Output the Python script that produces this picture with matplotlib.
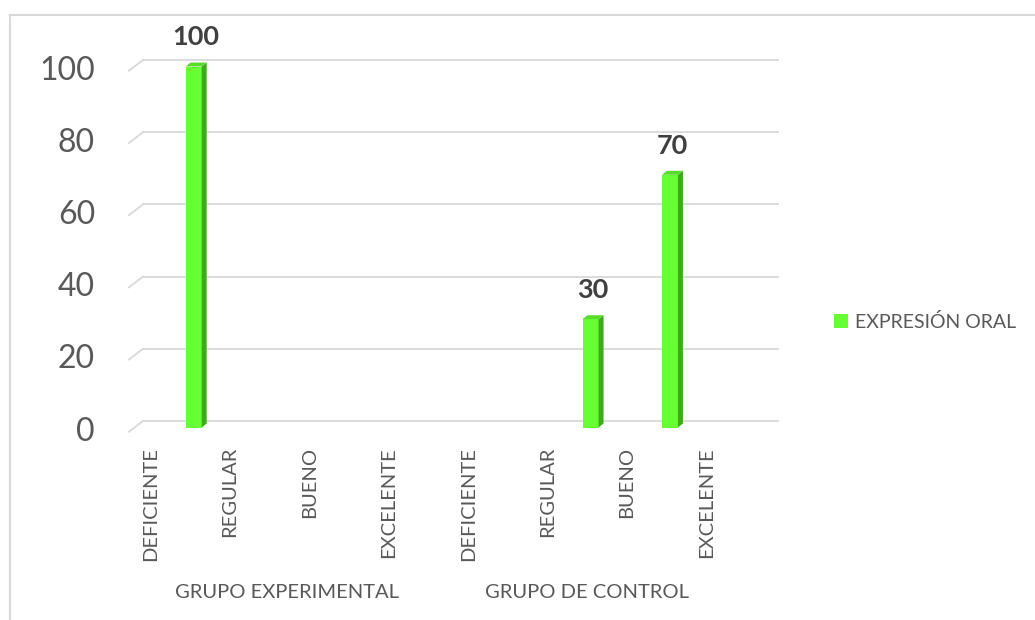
import numpy as np
import matplotlib
matplotlib.use('Agg')
from matplotlib import pyplot as plt
from matplotlib.patches import Polygon, Patch
from matplotlib.lines import Line2D
from matplotlib.transforms import blended_transform_factory

# data
levels = ['DEFICIENTE', 'REGULAR', 'BUENO', 'EXCELENTE']
groups = ['GRUPO EXPERIMENTAL', 'GRUPO DE CONTROL']
experimental = [100, 0, 0, 0]
control = [0, 30, 70, 0]
yticks = [0, 20, 40, 60, 80, 100]
series_name = 'EXPRESIÓN ORAL'

values = experimental + control
cat_labels = levels * 2
x = np.arange(len(values))

plt.rcParams['font.family'] = ['Lato', 'DejaVu Sans']

text_col = '#595959'
grid_col = '#D9D9D9'
front_col = '#66FF33'
side_col = '#42A820'
top_col = '#58DC2C'

W, H = 1035, 620
fig = plt.figure(figsize=(W / 100, H / 100), dpi=100)
ax = fig.add_axes([143 / W, (H - 427.5) / H, 635 / W, 361 / H])
ax.set_xlim(-0.5, len(values) - 0.5)
ax.set_ylim(0, 100)
ax.axis('off')

# pixel -> data helpers
px_x = 635 / len(values)
px_y = 361 / 100

# back wall gridlines + the little floor diagonal on the left
back_up = 6.5 / px_y
front_down = 4.2 / px_y
left = -0.5
for v in yticks:
    ax.plot([left, len(values) - 0.5], [v + back_up, v + back_up],
            color=grid_col, lw=1.3, clip_on=False, zorder=1)
    ax.plot([left - 14 / px_x, left], [v - front_down, v + back_up],
            color=grid_col, lw=1.3, clip_on=False, zorder=1)
    ax.text(left - 48 / px_x, v - front_down, str(v), ha='right', va='center',
            fontsize=23, color=text_col)

# 3d-ish bars
bar_w = 16 / px_x
shift = 11 / px_x
ddx = 5 / px_x
ddy = 4 / px_y
xs = x + shift
ax.bar(xs, values, width=bar_w, color=front_col, zorder=3, clip_on=False)
for xc, v in zip(xs, values):
    if v <= 0:
        continue
    xl, xr = xc - bar_w / 2, xc + bar_w / 2
    side = Polygon([(xr, 0), (xr, v), (xr + ddx, v + ddy), (xr + ddx, ddy)],
                   closed=True, facecolor=side_col, edgecolor='none', zorder=3, clip_on=False)
    top = Polygon([(xl, v), (xr, v), (xr + ddx, v + ddy), (xl + ddx, v + ddy)],
                  closed=True, facecolor=top_col, edgecolor='none', zorder=3, clip_on=False)
    ax.add_patch(side)
    ax.add_patch(top)
    ax.annotate(str(v), (xc + ddx / 2, v), xytext=(0, 21), textcoords='offset points',
                ha='center', va='center', fontsize=19.5, fontweight='bold',
                color='#404040', annotation_clip=False)

# category labels (rotated), sitting left of the category centre like the original
tr = blended_transform_factory(ax.transData, ax.transAxes)
for xi, lab in zip(x, cat_labels):
    ax.text(xi - 32 / px_x, -19.5 / 361, lab, rotation=90, ha='center', va='top',
            fontsize=14.5, color=text_col, transform=tr)

# group labels
group_pos = [287, 587]
for g, gp in zip(groups, group_pos):
    ax.text((gp - 143) / 635, (427.5 - 592) / 361, g, ha='center', va='center',
            fontsize=14.5, color=text_col, transform=ax.transAxes)

# legend
fig.legend(handles=[Patch(facecolor=front_col, edgecolor='none', label=series_name)],
           loc='center left', bbox_to_anchor=(834 / W, 1 - 321.5 / H),
           frameon=False, fontsize=14, labelcolor=text_col,
           handlelength=0.72, handleheight=0.72, handletextpad=0.36,
           borderpad=0, borderaxespad=0)

# chart area border (top and left visible)
fig.add_artist(Line2D([10 / W, 1], [1 - 15 / H, 1 - 15 / H], transform=fig.transFigure,
                      color=grid_col, lw=1.5))
fig.add_artist(Line2D([10 / W, 10 / W], [0, 1 - 15 / H], transform=fig.transFigure,
                      color=grid_col, lw=1.5))

fig.savefig('out.png', dpi=100)
